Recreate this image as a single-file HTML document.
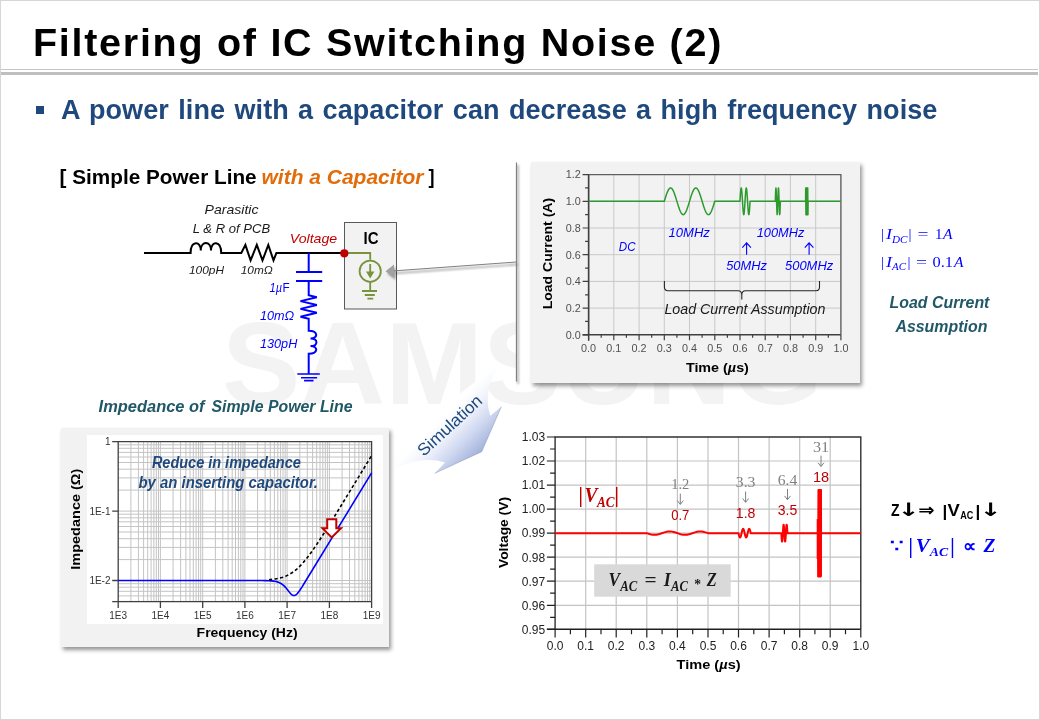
<!DOCTYPE html>
<html lang="en">
<head>
<meta charset="utf-8">
<title>Filtering of IC Switching Noise (2)</title>
<style>
html,body{margin:0;padding:0;background:#fff;}
body{width:1040px;height:720px;position:relative;overflow:hidden;font-family:"Liberation Sans",sans-serif;}
.frame{position:absolute;left:0;top:0;width:1038px;height:718px;border:1px solid #d6d6d6;box-sizing:content-box;}
h1{position:absolute;left:33px;top:19px;margin:0;font:bold 39.5px/46px "Liberation Sans",sans-serif;letter-spacing:1.72px;color:#000;white-space:nowrap;}
.rule-thin{position:absolute;left:1px;top:69px;width:1037px;height:1px;background:#c6c6c6;}
.rule-thick{position:absolute;left:1px;top:72px;width:1037px;height:3px;background:#bfbfbf;}
.bullet{position:absolute;left:36px;top:106px;width:8px;height:8px;background:#1f497d;}
.lead{position:absolute;left:61px;top:95.3px;margin:0;font:bold 27px/30px "Liberation Sans",sans-serif;color:#1f497d;white-space:nowrap;letter-spacing:0.1px;word-spacing:1.7px;}
.watermark{position:absolute;left:222px;top:297px;margin:0;font:bold 117.5px/134px "Liberation Sans",sans-serif;color:#f3f3f3;letter-spacing:0;white-space:nowrap;}
.panel{position:absolute;background:#f2f2f2;box-shadow:2px 2.5px 4px rgba(0,0,0,.42);}
.callout-box{position:absolute;left:516.5px;top:162.5px;width:330px;height:219px;background:#fff;}
.panel.p1{left:531px;top:162px;width:329px;height:221px;}
.panel.p2{left:61px;top:428px;width:328px;height:218.5px;}
.panel .inner{position:absolute;left:26px;top:7px;width:295.6px;height:188.7px;background:#fff;}
svg{position:absolute;left:0;top:0;}
</style>
</head>
<body>
<div class="frame"></div>
<div class="watermark">SAMSUNG</div>
<h1>Filtering of IC Switching Noise (2)</h1>
<div class="rule-thin"></div><div class="rule-thick"></div>
<div class="bullet"></div>
<p class="lead">A power line with a capacitor can decrease a high frequency noise</p>
<div class="callout-box"></div>
<div class="panel p1"></div>
<div class="panel p2"><div class="inner"></div></div>
<svg width="1040" height="720" viewBox="0 0 1040 720">
<defs>
<filter id="soft" x="-20%" y="-20%" width="140%" height="140%"><feGaussianBlur stdDeviation="1.3"/></filter>
<linearGradient id="simgrad" gradientUnits="userSpaceOnUse" x1="430" y1="430" x2="466" y2="466">
<stop offset="0" stop-color="#ffffff"/>
<stop offset="0.28" stop-color="#f1f4fb"/>
<stop offset="0.64" stop-color="#ced7f0"/>
<stop offset="1" stop-color="#a4b4dc"/>
</linearGradient>
</defs>
<g id="simulation-arrow">
<path d="M395 468.3 Q424 455.5 445 462.5 L434.7 473.3 L481.7 451.7 L501.3 406.7 L490.3 415.8 Q482.5 393 497.5 367.5 Q440 400 395 468.3 Z" fill="url(#simgrad)"/>
<path d="M434.7 473.3 L481.7 451.7 L501.3 406.7" fill="none" stroke="#8e98b4" stroke-opacity="0.55" stroke-width="1"/>
<g transform="translate(453.6 429.6) rotate(-42.7)">
<text x="0.0" y="0.0" font-family="'Liberation Sans', sans-serif" font-size="17" font-weight="normal" font-style="normal" fill="#1f497d" text-anchor="middle" textLength="81.0" lengthAdjust="spacingAndGlyphs">Simulation</text>
</g></g>
<g id="circuit" fill="none" stroke-linecap="butt" stroke-linejoin="miter">
<rect x="344.5" y="222.5" width="52" height="86.5" fill="#f2f2f2" stroke="#595959" stroke-width="1"/>
<path d="M144 253 H190.6 C190.6 240.4 200.8 240.4 200.8 250.5 C200.8 240.4 211.0 240.4 211.0 250.5 C211.0 240.4 221.2 240.4 221.2 253 H241.3 L245.4 244.9 L250.6 260.4 L256.8 244.9 L262.5 260.4 L268.3 244.9 L273.5 260.4 L276.4 253 H344" stroke="#000" stroke-width="2"/>
<g stroke="#0000ff" stroke-width="2">
<path d="M308.7 253 V271.9 M296 271.9 H322.2 M296 280.9 H322.2 M308.7 280.9 V295.2 L316.8 297.2 L300.5 301.1 L316.8 305 L300.5 308.9 L316.8 312.8 L300.5 316.7 L308.7 318.7 V330.7 C318.4 330.7 318.4 338.4 310.5 338.4 C318.4 338.4 318.4 346.1 310.5 346.1 C318.4 346.1 318.4 353.8 308.7 353.8 V374"/>
<path d="M297.3 374 H319.8 M301 377.7 H317.1 M304.1 380.6 H313.5" stroke-width="1.6"/>
</g>
<g stroke="#77933c" stroke-width="1.8">
<path d="M344 253 H370.2 V259.8"/>
<circle cx="370.2" cy="271.2" r="10.6"/>
<path d="M370.2 264 V273"/>
<path d="M366 271.5 H374.4 L370.2 278.5 Z" fill="#77933c" stroke="none"/>
<path d="M370.2 282 V291 M362 291 H377 M364.8 295 H374.8 M367.4 298.6 H373.2"/>
</g>
<circle cx="344.3" cy="253.3" r="4.1" fill="#c00000"/>
</g>
<text x="204.5" y="213.5" font-family="'Liberation Sans', sans-serif" font-size="13.2" font-weight="normal" font-style="italic" fill="#1a1a1a" text-anchor="start" textLength="54.0" lengthAdjust="spacingAndGlyphs">Parasitic</text>
<text x="192.7" y="232.6" font-family="'Liberation Sans', sans-serif" font-size="13.2" font-weight="normal" font-style="italic" fill="#1a1a1a" text-anchor="start" textLength="77.5" lengthAdjust="spacingAndGlyphs">L &amp; R of PCB</text>
<text x="289.8" y="242.9" font-family="'Liberation Sans', sans-serif" font-size="13.2" font-weight="normal" font-style="italic" fill="#c00000" text-anchor="start" textLength="47.4" lengthAdjust="spacingAndGlyphs">Voltage</text>
<text x="189.0" y="273.8" font-family="'Liberation Sans', sans-serif" font-size="10.8" font-weight="normal" font-style="italic" fill="#1a1a1a" text-anchor="start" textLength="35.1" lengthAdjust="spacingAndGlyphs">100pH</text>
<text x="240.8" y="273.8" font-family="'Liberation Sans', sans-serif" font-size="10.8" font-weight="normal" font-style="italic" fill="#1a1a1a" text-anchor="start" textLength="32.0" lengthAdjust="spacingAndGlyphs">10mΩ</text>
<text x="269.5" y="292.0" font-family="'Liberation Sans', sans-serif" font-size="12.4" font-weight="normal" font-style="italic" fill="#0000ff" text-anchor="start" textLength="12.5" lengthAdjust="spacingAndGlyphs">1µ</text>
<text x="282.6" y="292.0" font-family="'Liberation Sans', sans-serif" font-size="12.4" font-weight="normal" font-style="normal" fill="#0000ff" text-anchor="start" textLength="7.2" lengthAdjust="spacingAndGlyphs">F</text>
<text x="260.0" y="319.6" font-family="'Liberation Sans', sans-serif" font-size="12.4" font-weight="normal" font-style="italic" fill="#0000ff" text-anchor="start" textLength="34.2" lengthAdjust="spacingAndGlyphs">10mΩ</text>
<text x="260.0" y="347.9" font-family="'Liberation Sans', sans-serif" font-size="12.4" font-weight="normal" font-style="italic" fill="#0000ff" text-anchor="start" textLength="37.3" lengthAdjust="spacingAndGlyphs">130pH</text>
<text x="363.5" y="244.0" font-family="'Liberation Sans', sans-serif" font-size="16.8" font-weight="bold" font-style="normal" fill="#000" text-anchor="start" textLength="15.0" lengthAdjust="spacingAndGlyphs">IC</text>
<text x="59.6" y="183.8" font-family="'Liberation Sans', sans-serif" font-size="20.5" font-weight="bold" font-style="normal" fill="#000" text-anchor="start" textLength="197.0" lengthAdjust="spacingAndGlyphs">[ Simple Power Line</text>
<text x="261.5" y="183.8" font-family="'Liberation Sans', sans-serif" font-size="20.5" font-weight="bold" font-style="italic" fill="#e36c0a" text-anchor="start" textLength="162.0" lengthAdjust="spacingAndGlyphs">with a Capacitor</text>
<text x="428.5" y="183.8" font-family="'Liberation Sans', sans-serif" font-size="20.5" font-weight="bold" font-style="normal" fill="#000" text-anchor="start" textLength="6.0" lengthAdjust="spacingAndGlyphs">]</text>
<g id="callout">
<g filter="url(#soft)" opacity="0.35" transform="translate(1.6 2.4)"><path d="M516.5 162.5 V381.5 M516.5 262 L392 271" stroke="#000" stroke-width="1.6" fill="none"/><path d="M385.5 271.3 L394 264.5 L394 277.5 Z" fill="#000"/></g>
<path d="M516.5 162.5 V381.5" stroke="#808080" stroke-width="1.2" fill="none"/>
<path d="M516.5 262 L392 271" stroke="#808080" stroke-width="1" fill="none"/>
<path d="M385.5 271.3 L394 264.5 L394 277.5 Z" fill="#a0a0a0"/>
</g>
<g id="chart-load-current">
<path d="M613.8 174.6 V334.8 M639.1 174.6 V334.8 M664.3 174.6 V334.8 M689.5 174.6 V334.8 M714.8 174.6 V334.8 M740.0 174.6 V334.8 M765.2 174.6 V334.8 M790.4 174.6 V334.8 M815.7 174.6 V334.8 M588.6 308.1 H840.9 M588.6 281.4 H840.9 M588.6 254.7 H840.9 M588.6 228.0 H840.9 M588.6 201.3 H840.9 " stroke="#c8c8c8" stroke-width="1" fill="none"/>
<path d="M588.6 334.8 V174.6 H840.9 V334.8" stroke="#606060" stroke-width="1.4" fill="none"/>
<path d="M582.6 334.8 H840.9" stroke="#404040" stroke-width="1.4" fill="none"/>
<path d="M588.6 174.6 V340.8" stroke="#404040" stroke-width="1.4" fill="none"/>
<path d="M588.6 334.8 v5.5 M601.2 334.8 v3 M613.8 334.8 v5.5 M626.4 334.8 v3 M639.1 334.8 v5.5 M651.7 334.8 v3 M664.3 334.8 v5.5 M676.9 334.8 v3 M689.5 334.8 v5.5 M702.1 334.8 v3 M714.8 334.8 v5.5 M727.4 334.8 v3 M740.0 334.8 v5.5 M752.6 334.8 v3 M765.2 334.8 v5.5 M777.8 334.8 v3 M790.4 334.8 v5.5 M803.1 334.8 v3 M815.7 334.8 v5.5 M828.3 334.8 v3 M840.9 334.8 v5.5 M588.6 334.8 h-6 M588.6 321.4 h-3.5 M588.6 308.1 h-6 M588.6 294.8 h-3.5 M588.6 281.4 h-6 M588.6 268.1 h-3.5 M588.6 254.7 h-6 M588.6 241.3 h-3.5 M588.6 228.0 h-6 M588.6 214.7 h-3.5 M588.6 201.3 h-6 M588.6 187.9 h-3.5 M588.6 174.6 h-6 " stroke="#404040" stroke-width="1.2" fill="none"/>
<text x="588.6" y="352.3" font-family="'Liberation Sans', sans-serif" font-size="10.8" font-weight="normal" font-style="normal" fill="#505050" text-anchor="middle">0.0</text>
<text x="613.8" y="352.3" font-family="'Liberation Sans', sans-serif" font-size="10.8" font-weight="normal" font-style="normal" fill="#505050" text-anchor="middle">0.1</text>
<text x="639.1" y="352.3" font-family="'Liberation Sans', sans-serif" font-size="10.8" font-weight="normal" font-style="normal" fill="#505050" text-anchor="middle">0.2</text>
<text x="664.3" y="352.3" font-family="'Liberation Sans', sans-serif" font-size="10.8" font-weight="normal" font-style="normal" fill="#505050" text-anchor="middle">0.3</text>
<text x="689.5" y="352.3" font-family="'Liberation Sans', sans-serif" font-size="10.8" font-weight="normal" font-style="normal" fill="#505050" text-anchor="middle">0.4</text>
<text x="714.8" y="352.3" font-family="'Liberation Sans', sans-serif" font-size="10.8" font-weight="normal" font-style="normal" fill="#505050" text-anchor="middle">0.5</text>
<text x="740.0" y="352.3" font-family="'Liberation Sans', sans-serif" font-size="10.8" font-weight="normal" font-style="normal" fill="#505050" text-anchor="middle">0.6</text>
<text x="765.2" y="352.3" font-family="'Liberation Sans', sans-serif" font-size="10.8" font-weight="normal" font-style="normal" fill="#505050" text-anchor="middle">0.7</text>
<text x="790.4" y="352.3" font-family="'Liberation Sans', sans-serif" font-size="10.8" font-weight="normal" font-style="normal" fill="#505050" text-anchor="middle">0.8</text>
<text x="815.7" y="352.3" font-family="'Liberation Sans', sans-serif" font-size="10.8" font-weight="normal" font-style="normal" fill="#505050" text-anchor="middle">0.9</text>
<text x="840.9" y="352.3" font-family="'Liberation Sans', sans-serif" font-size="10.8" font-weight="normal" font-style="normal" fill="#505050" text-anchor="middle">1.0</text>
<text x="580.8" y="338.6" font-family="'Liberation Sans', sans-serif" font-size="10.8" font-weight="normal" font-style="normal" fill="#505050" text-anchor="end">0.0</text>
<text x="580.8" y="311.9" font-family="'Liberation Sans', sans-serif" font-size="10.8" font-weight="normal" font-style="normal" fill="#505050" text-anchor="end">0.2</text>
<text x="580.8" y="285.2" font-family="'Liberation Sans', sans-serif" font-size="10.8" font-weight="normal" font-style="normal" fill="#505050" text-anchor="end">0.4</text>
<text x="580.8" y="258.5" font-family="'Liberation Sans', sans-serif" font-size="10.8" font-weight="normal" font-style="normal" fill="#505050" text-anchor="end">0.6</text>
<text x="580.8" y="231.8" font-family="'Liberation Sans', sans-serif" font-size="10.8" font-weight="normal" font-style="normal" fill="#505050" text-anchor="end">0.8</text>
<text x="580.8" y="205.1" font-family="'Liberation Sans', sans-serif" font-size="10.8" font-weight="normal" font-style="normal" fill="#505050" text-anchor="end">1.0</text>
<text x="580.8" y="178.4" font-family="'Liberation Sans', sans-serif" font-size="10.8" font-weight="normal" font-style="normal" fill="#505050" text-anchor="end">1.2</text>
<path d="M588.60 201.30 L664.29 201.30 L665.47 197.44 L666.35 194.75 L667.15 192.58 L667.91 190.84 L668.66 189.47 L669.04 188.94 L669.38 188.56 L669.76 188.24 L670.09 188.06 L670.43 187.96 L670.77 187.96 L671.14 188.07 L671.52 188.30 L671.90 188.65 L672.28 189.10 L673.08 190.42 L673.92 192.26 L674.63 194.15 L675.39 196.39 L677.91 204.62 L678.80 207.36 L679.64 209.70 L680.40 211.50 L681.11 212.86 L681.82 213.86 L682.20 214.23 L682.54 214.46 L682.88 214.60 L683.21 214.65 L683.55 214.60 L683.89 214.46 L684.22 214.23 L684.56 213.91 L685.27 212.93 L685.99 211.59 L686.79 209.70 L687.63 207.36 L688.51 204.62 L691.03 196.39 L691.83 194.03 L692.55 192.16 L693.39 190.34 L693.81 189.60 L694.19 189.05 L694.61 188.56 L694.99 188.24 L695.36 188.04 L695.74 187.95 L696.08 187.98 L696.42 188.09 L696.75 188.30 L697.13 188.65 L697.85 189.60 L698.60 191.01 L699.40 192.90 L700.24 195.24 L701.13 197.98 L703.65 206.21 L704.45 208.57 L705.16 210.44 L706.00 212.26 L706.42 213.00 L706.80 213.55 L707.18 214.00 L707.56 214.33 L707.94 214.54 L708.32 214.64 L708.65 214.63 L708.99 214.53 L709.33 214.33 L709.70 214.00 L710.42 213.07 L711.13 211.76 L711.89 210.02 L712.69 207.85 L713.57 205.16 L714.75 201.30 L739.98 201.30 L740.40 194.62 L740.69 190.93 L740.99 188.60 L741.12 188.11 L741.24 187.95 L741.37 188.11 L741.54 188.84 L741.87 191.86 L742.21 196.52 L742.88 207.36 L743.22 211.67 L743.51 214.00 L743.64 214.49 L743.76 214.65 L743.89 214.49 L744.06 213.76 L744.40 210.74 L744.73 206.08 L745.40 195.24 L745.74 190.93 L746.04 188.60 L746.16 188.11 L746.29 187.95 L746.41 188.11 L746.58 188.84 L746.92 191.86 L747.25 196.52 L747.93 207.36 L748.26 211.67 L748.56 214.00 L748.68 214.49 L748.81 214.65 L748.94 214.49 L749.06 214.00 L749.36 211.67 L749.65 207.98 L750.07 201.30 L775.30 201.30 L775.64 191.38 L775.81 188.60 L775.93 187.95 L776.06 188.60 L776.23 191.38 L776.86 210.23 L777.03 213.50 L777.11 214.36 L777.19 214.65 L777.28 214.36 L777.36 213.50 L777.53 210.23 L778.16 191.38 L778.33 188.60 L778.46 187.95 L778.58 188.60 L778.75 191.38 L779.38 210.23 L779.55 213.50 L779.63 214.36 L779.72 214.65 L779.84 214.00 L780.01 211.22 L780.35 201.30 L805.58 201.30 L805.70 187.95 L805.96 214.65 L806.21 187.95 L806.46 214.65 L806.71 187.95 L806.97 214.65 L807.22 187.95 L807.47 214.65 L807.72 187.95 L807.97 214.65 L808.10 201.30 L840.90 201.30" stroke="#2d9a2d" stroke-width="1.5" fill="none" stroke-linejoin="round"/>
<text x="618.8" y="251.0" font-family="'Liberation Sans', sans-serif" font-size="13.2" font-weight="normal" font-style="italic" fill="#0000ff" text-anchor="start" textLength="16.8" lengthAdjust="spacingAndGlyphs">DC</text>
<text x="668.5" y="237.1" font-family="'Liberation Sans', sans-serif" font-size="13.2" font-weight="normal" font-style="italic" fill="#0000ff" text-anchor="start" textLength="41.4" lengthAdjust="spacingAndGlyphs">10MHz</text>
<text x="756.7" y="237.1" font-family="'Liberation Sans', sans-serif" font-size="13.2" font-weight="normal" font-style="italic" fill="#0000ff" text-anchor="start" textLength="47.6" lengthAdjust="spacingAndGlyphs">100MHz</text>
<text x="726.2" y="269.8" font-family="'Liberation Sans', sans-serif" font-size="13.2" font-weight="normal" font-style="italic" fill="#0000ff" text-anchor="start" textLength="40.8" lengthAdjust="spacingAndGlyphs">50MHz</text>
<text x="785.0" y="269.8" font-family="'Liberation Sans', sans-serif" font-size="13.2" font-weight="normal" font-style="italic" fill="#0000ff" text-anchor="start" textLength="48.2" lengthAdjust="spacingAndGlyphs">500MHz</text>
<path d="M746.6 254.7 V243 M742.3 247.6 L746.6 242.8 L750.9 247.6 M809.1 254.7 V243 M804.8 247.6 L809.1 242.8 L813.4 247.6" stroke="#0000ff" stroke-width="1.1" fill="none"/>
<path d="M664.4 281 V287 Q664.4 290.7 668 290.7 H738 Q741.8 290.7 741.8 295 V299.6 M741.8 295 Q741.8 290.7 745.5 290.7 H816 Q819.5 290.7 819.5 287 V281" stroke="#262626" stroke-width="1.1" fill="none"/>
<text x="664.4" y="314.3" font-family="'Liberation Sans', sans-serif" font-size="14" font-weight="normal" font-style="italic" fill="#1a1a1a" text-anchor="start" textLength="161.0" lengthAdjust="spacingAndGlyphs">Load Current Assumption</text>
<text x="717.4" y="372.0" font-family="'Liberation Sans', sans-serif" font-size="13" font-weight="bold" font-style="normal" fill="#000" text-anchor="middle" textLength="63.0" lengthAdjust="spacingAndGlyphs">Time (<tspan font-style="italic">µ</tspan>s)</text>
<g transform="translate(551.6 253.6) rotate(-90)">
<text x="0.0" y="0.0" font-family="'Liberation Sans', sans-serif" font-size="13" font-weight="bold" font-style="normal" fill="#000" text-anchor="middle" textLength="111.5" lengthAdjust="spacingAndGlyphs">Load Current (A)</text>
</g>
</g>
<g id="right-labels">
<text x="881.0" y="239.2" font-family="'Liberation Serif', serif" font-size="15" font-weight="normal" font-style="normal" fill="#0000ff" text-anchor="start">|</text>
<text x="886.0" y="239.2" font-family="'Liberation Serif', serif" font-size="15" font-weight="normal" font-style="italic" fill="#0000ff" text-anchor="start" textLength="6.0" lengthAdjust="spacingAndGlyphs">I</text>
<text x="892.0" y="242.6" font-family="'Liberation Serif', serif" font-size="11" font-weight="normal" font-style="italic" fill="#0000ff" text-anchor="start" textLength="15.5" lengthAdjust="spacingAndGlyphs">DC</text>
<text x="908.6" y="239.2" font-family="'Liberation Serif', serif" font-size="15" font-weight="normal" font-style="normal" fill="#0000ff" text-anchor="start">|</text>
<text x="917.5" y="239.2" font-family="'Liberation Serif', serif" font-size="15" font-weight="normal" font-style="normal" fill="#0000ff" text-anchor="start" textLength="11.0" lengthAdjust="spacingAndGlyphs">=</text>
<text x="935.0" y="239.2" font-family="'Liberation Serif', serif" font-size="15" font-weight="normal" font-style="normal" fill="#0000ff" text-anchor="start">1</text>
<text x="943.0" y="239.2" font-family="'Liberation Serif', serif" font-size="15" font-weight="normal" font-style="italic" fill="#0000ff" text-anchor="start" textLength="9.5" lengthAdjust="spacingAndGlyphs">A</text>
<text x="881.0" y="266.8" font-family="'Liberation Serif', serif" font-size="15" font-weight="normal" font-style="normal" fill="#0000ff" text-anchor="start">|</text>
<text x="886.0" y="266.8" font-family="'Liberation Serif', serif" font-size="15" font-weight="normal" font-style="italic" fill="#0000ff" text-anchor="start" textLength="6.0" lengthAdjust="spacingAndGlyphs">I</text>
<text x="892.0" y="270.2" font-family="'Liberation Serif', serif" font-size="11" font-weight="normal" font-style="italic" fill="#0000ff" text-anchor="start" textLength="14.0" lengthAdjust="spacingAndGlyphs">AC</text>
<text x="907.4" y="266.8" font-family="'Liberation Serif', serif" font-size="15" font-weight="normal" font-style="normal" fill="#0000ff" text-anchor="start">|</text>
<text x="916.0" y="266.8" font-family="'Liberation Serif', serif" font-size="15" font-weight="normal" font-style="normal" fill="#0000ff" text-anchor="start" textLength="11.0" lengthAdjust="spacingAndGlyphs">=</text>
<text x="932.5" y="266.8" font-family="'Liberation Serif', serif" font-size="15" font-weight="normal" font-style="normal" fill="#0000ff" text-anchor="start" textLength="20.5" lengthAdjust="spacingAndGlyphs">0.1</text>
<text x="954.0" y="266.8" font-family="'Liberation Serif', serif" font-size="15" font-weight="normal" font-style="italic" fill="#0000ff" text-anchor="start" textLength="9.5" lengthAdjust="spacingAndGlyphs">A</text>
<text x="889.6" y="308.2" font-family="'Liberation Sans', sans-serif" font-size="15.6" font-weight="bold" font-style="italic" fill="#215868" text-anchor="start" textLength="99.8" lengthAdjust="spacingAndGlyphs">Load Current</text>
<text x="895.4" y="331.6" font-family="'Liberation Sans', sans-serif" font-size="15.6" font-weight="bold" font-style="italic" fill="#215868" text-anchor="start" textLength="92.0" lengthAdjust="spacingAndGlyphs">Assumption</text>
<text x="890.9" y="515.6" font-family="'Liberation Sans', sans-serif" font-size="16.5" font-weight="bold" font-style="normal" fill="#000" text-anchor="start" textLength="8.6" lengthAdjust="spacingAndGlyphs">Z</text>
<text x="897.4" y="516.1" font-family="'DejaVu Sans', sans-serif" font-size="18.5" font-weight="bold" font-style="normal" fill="#000" text-anchor="start" textLength="22.0" lengthAdjust="spacingAndGlyphs">↓</text>
<text x="918.2" y="515.6" font-family="'DejaVu Sans', sans-serif" font-size="18" font-weight="bold" font-style="normal" fill="#000" text-anchor="start" textLength="16.4" lengthAdjust="spacingAndGlyphs">⇒</text>
<text x="942.6" y="517.1" font-family="'Liberation Sans', sans-serif" font-size="17" font-weight="bold" font-style="normal" fill="#000" text-anchor="start">|</text>
<text x="947.6" y="515.6" font-family="'Liberation Sans', sans-serif" font-size="16.5" font-weight="bold" font-style="normal" fill="#000" text-anchor="start" textLength="12.3" lengthAdjust="spacingAndGlyphs">V</text>
<text x="960.2" y="519.2" font-family="'Liberation Sans', sans-serif" font-size="10.8" font-weight="bold" font-style="normal" fill="#000" text-anchor="start" textLength="13.1" lengthAdjust="spacingAndGlyphs">AC</text>
<text x="975.6" y="517.1" font-family="'Liberation Sans', sans-serif" font-size="17" font-weight="bold" font-style="normal" fill="#000" text-anchor="start">|</text>
<text x="979.5" y="516.1" font-family="'DejaVu Sans', sans-serif" font-size="18.5" font-weight="bold" font-style="normal" fill="#000" text-anchor="start" textLength="22.0" lengthAdjust="spacingAndGlyphs">↓</text>
<text x="889.6" y="551.9" font-family="'Liberation Serif', serif" font-size="18" font-weight="bold" font-style="normal" fill="#0000ff" text-anchor="start" textLength="13.0" lengthAdjust="spacingAndGlyphs">∵</text>
<text x="908.6" y="553.4" font-family="'Liberation Serif', serif" font-size="20" font-weight="bold" font-style="normal" fill="#0000ff" text-anchor="start">|</text>
<text x="915.8" y="551.9" font-family="'Liberation Serif', serif" font-size="18.4" font-weight="bold" font-style="italic" fill="#0000ff" text-anchor="start" textLength="13.9" lengthAdjust="spacingAndGlyphs">V</text>
<text x="929.7" y="556.0" font-family="'Liberation Serif', serif" font-size="13.5" font-weight="bold" font-style="italic" fill="#0000ff" text-anchor="start" textLength="18.4" lengthAdjust="spacingAndGlyphs">AC</text>
<text x="950.3" y="553.4" font-family="'Liberation Serif', serif" font-size="20" font-weight="bold" font-style="normal" fill="#0000ff" text-anchor="start">|</text>
<text x="962.8" y="551.9" font-family="'Liberation Serif', serif" font-size="18" font-weight="bold" font-style="normal" fill="#0000ff" text-anchor="start" textLength="13.4" lengthAdjust="spacingAndGlyphs">∝</text>
<text x="983.6" y="551.9" font-family="'Liberation Serif', serif" font-size="18.4" font-weight="bold" font-style="italic" fill="#0000ff" text-anchor="start" textLength="11.9" lengthAdjust="spacingAndGlyphs">Z</text>
</g>
<g id="chart-impedance">
<text x="98.6" y="411.5" font-family="'Liberation Sans', sans-serif" font-size="16.8" font-weight="bold" font-style="italic" fill="#215868" text-anchor="start" textLength="106.0" lengthAdjust="spacingAndGlyphs">Impedance of</text>
<text x="211.5" y="411.5" font-family="'Liberation Sans', sans-serif" font-size="16.8" font-weight="bold" font-style="italic" fill="#215868" text-anchor="start" textLength="141.0" lengthAdjust="spacingAndGlyphs">Simple Power Line</text>
<path d="M130.9 441.6 V601.6 M138.4 441.6 V601.6 M143.6 441.6 V601.6 M147.7 441.6 V601.6 M151.1 441.6 V601.6 M153.9 441.6 V601.6 M156.3 441.6 V601.6 M158.5 441.6 V601.6 M160.4 441.6 V601.6 M173.1 441.6 V601.6 M180.6 441.6 V601.6 M185.9 441.6 V601.6 M190.0 441.6 V601.6 M193.3 441.6 V601.6 M196.1 441.6 V601.6 M198.6 441.6 V601.6 M200.7 441.6 V601.6 M202.7 441.6 V601.6 M215.4 441.6 V601.6 M222.8 441.6 V601.6 M228.1 441.6 V601.6 M232.2 441.6 V601.6 M235.5 441.6 V601.6 M238.4 441.6 V601.6 M240.8 441.6 V601.6 M243.0 441.6 V601.6 M244.9 441.6 V601.6 M257.6 441.6 V601.6 M265.1 441.6 V601.6 M270.3 441.6 V601.6 M274.4 441.6 V601.6 M277.8 441.6 V601.6 M280.6 441.6 V601.6 M283.0 441.6 V601.6 M285.2 441.6 V601.6 M287.1 441.6 V601.6 M299.8 441.6 V601.6 M307.3 441.6 V601.6 M312.6 441.6 V601.6 M316.7 441.6 V601.6 M320.0 441.6 V601.6 M322.8 441.6 V601.6 M325.3 441.6 V601.6 M327.4 441.6 V601.6 M329.4 441.6 V601.6 M342.1 441.6 V601.6 M349.5 441.6 V601.6 M354.8 441.6 V601.6 M358.9 441.6 V601.6 M362.2 441.6 V601.6 M365.1 441.6 V601.6 M367.5 441.6 V601.6 M369.7 441.6 V601.6 M118.2 601.4 H371.6 M118.2 595.9 H371.6 M118.2 591.3 H371.6 M118.2 587.2 H371.6 M118.2 583.7 H371.6 M118.2 580.5 H371.6 M118.2 559.6 H371.6 M118.2 547.4 H371.6 M118.2 538.7 H371.6 M118.2 532.0 H371.6 M118.2 526.5 H371.6 M118.2 521.8 H371.6 M118.2 517.8 H371.6 M118.2 514.2 H371.6 M118.2 511.1 H371.6 M118.2 490.1 H371.6 M118.2 477.9 H371.6 M118.2 469.2 H371.6 M118.2 462.5 H371.6 M118.2 457.0 H371.6 M118.2 452.4 H371.6 M118.2 448.3 H371.6 M118.2 444.8 H371.6 " stroke="#c4c4c4" stroke-width="1" fill="none"/>
<path d="M118.2 601.6 V441.6 H371.6 V601.6" stroke="#404040" stroke-width="1.3" fill="none"/>
<path d="M112.2 601.6 H371.6" stroke="#404040" stroke-width="1.3" fill="none"/>
<path d="M118.2 601.6 v6.5 M160.4 601.6 v6.5 M202.7 601.6 v6.5 M244.9 601.6 v6.5 M287.1 601.6 v6.5 M329.4 601.6 v6.5 M371.6 601.6 v6.5 M118.2 441.6 h-6 M118.2 511.1 h-6 M118.2 580.5 h-6 " stroke="#404040" stroke-width="1.3" fill="none"/>
<text x="118.2" y="618.7" font-family="'Liberation Sans', sans-serif" font-size="10" font-weight="normal" font-style="normal" fill="#333" text-anchor="middle">1E3</text>
<text x="160.4" y="618.7" font-family="'Liberation Sans', sans-serif" font-size="10" font-weight="normal" font-style="normal" fill="#333" text-anchor="middle">1E4</text>
<text x="202.7" y="618.7" font-family="'Liberation Sans', sans-serif" font-size="10" font-weight="normal" font-style="normal" fill="#333" text-anchor="middle">1E5</text>
<text x="244.9" y="618.7" font-family="'Liberation Sans', sans-serif" font-size="10" font-weight="normal" font-style="normal" fill="#333" text-anchor="middle">1E6</text>
<text x="287.1" y="618.7" font-family="'Liberation Sans', sans-serif" font-size="10" font-weight="normal" font-style="normal" fill="#333" text-anchor="middle">1E7</text>
<text x="329.4" y="618.7" font-family="'Liberation Sans', sans-serif" font-size="10" font-weight="normal" font-style="normal" fill="#333" text-anchor="middle">1E8</text>
<text x="371.6" y="618.7" font-family="'Liberation Sans', sans-serif" font-size="10" font-weight="normal" font-style="normal" fill="#333" text-anchor="middle">1E9</text>
<text x="110.5" y="445.2" font-family="'Liberation Sans', sans-serif" font-size="10" font-weight="normal" font-style="normal" fill="#333" text-anchor="end">1</text>
<text x="110.5" y="514.6" font-family="'Liberation Sans', sans-serif" font-size="10" font-weight="normal" font-style="normal" fill="#333" text-anchor="end">1E-1</text>
<text x="110.5" y="584.1" font-family="'Liberation Sans', sans-serif" font-size="10" font-weight="normal" font-style="normal" fill="#333" text-anchor="end">1E-2</text>
<path d="M118.20 580.50 L255.67 580.51 L261.37 580.54 L265.81 580.62 L268.97 580.73 L271.51 580.91 L273.41 581.11 L274.67 581.31 L275.94 581.56 L277.21 581.88 L278.48 582.31 L279.11 582.56 L280.38 583.17 L281.01 583.53 L282.28 584.38 L282.91 584.87 L283.54 585.41 L284.81 586.65 L285.44 587.34 L286.71 588.85 L289.25 592.09 L289.88 592.85 L290.51 593.56 L291.15 594.19 L291.78 594.72 L292.41 595.13 L293.05 595.40 L293.68 595.52 L294.31 595.50 L294.95 595.33 L295.58 595.02 L296.21 594.57 L296.85 594.02 L297.48 593.36 L298.11 592.62 L298.75 591.80 L300.01 590.02 L301.92 587.09 L303.82 584.02 L331.69 538.41 L371.60 472.82" stroke="#0000ff" stroke-width="1.6" fill="none" stroke-linejoin="round"/>
<path d="M268.97 579.70 L272.14 579.38 L275.31 578.94 L277.84 578.48 L280.38 577.89 L281.64 577.54 L282.91 577.15 L284.81 576.47 L286.08 575.95 L287.34 575.38 L289.25 574.42 L291.15 573.30 L293.05 572.04 L294.95 570.62 L296.85 569.04 L298.75 567.29 L300.65 565.39 L302.55 563.34 L305.08 560.39 L306.98 558.02 L308.88 555.55 L310.78 552.97 L313.32 549.41 L315.85 545.71 L318.39 541.91 L320.92 538.03 L324.09 533.08 L330.42 522.99 L339.29 508.62 L351.33 488.92 L371.60 455.61" stroke="#000" stroke-width="1.6" fill="none" stroke-dasharray="3.2 2.4"/>
<path d="M327.2 519.2 H336.3 V528.2 H341 L331.7 537.4 L322.5 528.2 H327.2 Z" fill="#fff" stroke="#c00000" stroke-width="2" stroke-linejoin="miter"/>
<text x="151.9" y="468.1" font-family="'Liberation Sans', sans-serif" font-size="15.6" font-weight="bold" font-style="italic" fill="#1f497d" text-anchor="start" textLength="148.9" lengthAdjust="spacingAndGlyphs">Reduce in impedance</text>
<text x="138.5" y="488.3" font-family="'Liberation Sans', sans-serif" font-size="15.6" font-weight="bold" font-style="italic" fill="#1f497d" text-anchor="start" textLength="179.5" lengthAdjust="spacingAndGlyphs">by an inserting capacitor.</text>
<text x="247.1" y="636.9" font-family="'Liberation Sans', sans-serif" font-size="13" font-weight="bold" font-style="normal" fill="#000" text-anchor="middle" textLength="101.0" lengthAdjust="spacingAndGlyphs">Frequency (Hz)</text>
<g transform="translate(80.4 519.2) rotate(-90)">
<text x="0.0" y="0.0" font-family="'Liberation Sans', sans-serif" font-size="13" font-weight="bold" font-style="normal" fill="#000" text-anchor="middle" textLength="101.0" lengthAdjust="spacingAndGlyphs">Impedance (Ω)</text>
</g>
</g>
<g id="chart-voltage">
<path d="M585.7 437.0 V629.3 M616.2 437.0 V629.3 M646.8 437.0 V629.3 M677.4 437.0 V629.3 M708.0 437.0 V629.3 M738.5 437.0 V629.3 M769.1 437.0 V629.3 M799.7 437.0 V629.3 M830.2 437.0 V629.3 M555.1 605.3 H860.8 M555.1 581.2 H860.8 M555.1 557.2 H860.8 M555.1 533.1 H860.8 M555.1 509.1 H860.8 M555.1 485.1 H860.8 M555.1 461.0 H860.8 " stroke="#c4c4c4" stroke-width="1.2" fill="none"/>
<rect x="594.2" y="564.3" width="136.5" height="32.4" fill="#d9d9d9"/>
<path d="M555.1 629.3 V437.0 H860.8 V629.3" stroke="#303030" stroke-width="1.4" fill="none"/>
<path d="M546.9 629.3 H860.8" stroke="#202020" stroke-width="1.4" fill="none"/>
<path d="M555.1 629.3 v8.2 M570.4 629.3 v5 M585.7 629.3 v8.2 M601.0 629.3 v5 M616.2 629.3 v8.2 M631.5 629.3 v5 M646.8 629.3 v8.2 M662.1 629.3 v5 M677.4 629.3 v8.2 M692.7 629.3 v5 M708.0 629.3 v8.2 M723.2 629.3 v5 M738.5 629.3 v8.2 M753.8 629.3 v5 M769.1 629.3 v8.2 M784.4 629.3 v5 M799.7 629.3 v8.2 M814.9 629.3 v5 M830.2 629.3 v8.2 M845.5 629.3 v5 M860.8 629.3 v8.2 M555.1 629.3 h-8.2 M555.1 617.3 h-5 M555.1 605.3 h-8.2 M555.1 593.2 h-5 M555.1 581.2 h-8.2 M555.1 569.2 h-5 M555.1 557.2 h-8.2 M555.1 545.2 h-5 M555.1 533.1 h-8.2 M555.1 521.1 h-5 M555.1 509.1 h-8.2 M555.1 497.1 h-5 M555.1 485.1 h-8.2 M555.1 473.1 h-5 M555.1 461.0 h-8.2 M555.1 449.0 h-5 M555.1 437.0 h-8.2 " stroke="#202020" stroke-width="1.2" fill="none"/>
<text x="555.1" y="650.4" font-family="'Liberation Sans', sans-serif" font-size="12" font-weight="normal" font-style="normal" fill="#222" text-anchor="middle">0.0</text>
<text x="585.7" y="650.4" font-family="'Liberation Sans', sans-serif" font-size="12" font-weight="normal" font-style="normal" fill="#222" text-anchor="middle">0.1</text>
<text x="616.2" y="650.4" font-family="'Liberation Sans', sans-serif" font-size="12" font-weight="normal" font-style="normal" fill="#222" text-anchor="middle">0.2</text>
<text x="646.8" y="650.4" font-family="'Liberation Sans', sans-serif" font-size="12" font-weight="normal" font-style="normal" fill="#222" text-anchor="middle">0.3</text>
<text x="677.4" y="650.4" font-family="'Liberation Sans', sans-serif" font-size="12" font-weight="normal" font-style="normal" fill="#222" text-anchor="middle">0.4</text>
<text x="708.0" y="650.4" font-family="'Liberation Sans', sans-serif" font-size="12" font-weight="normal" font-style="normal" fill="#222" text-anchor="middle">0.5</text>
<text x="738.5" y="650.4" font-family="'Liberation Sans', sans-serif" font-size="12" font-weight="normal" font-style="normal" fill="#222" text-anchor="middle">0.6</text>
<text x="769.1" y="650.4" font-family="'Liberation Sans', sans-serif" font-size="12" font-weight="normal" font-style="normal" fill="#222" text-anchor="middle">0.7</text>
<text x="799.7" y="650.4" font-family="'Liberation Sans', sans-serif" font-size="12" font-weight="normal" font-style="normal" fill="#222" text-anchor="middle">0.8</text>
<text x="830.2" y="650.4" font-family="'Liberation Sans', sans-serif" font-size="12" font-weight="normal" font-style="normal" fill="#222" text-anchor="middle">0.9</text>
<text x="860.8" y="650.4" font-family="'Liberation Sans', sans-serif" font-size="12" font-weight="normal" font-style="normal" fill="#222" text-anchor="middle">1.0</text>
<text x="545.2" y="633.6" font-family="'Liberation Sans', sans-serif" font-size="12" font-weight="normal" font-style="normal" fill="#222" text-anchor="end">0.95</text>
<text x="545.2" y="609.6" font-family="'Liberation Sans', sans-serif" font-size="12" font-weight="normal" font-style="normal" fill="#222" text-anchor="end">0.96</text>
<text x="545.2" y="585.5" font-family="'Liberation Sans', sans-serif" font-size="12" font-weight="normal" font-style="normal" fill="#222" text-anchor="end">0.97</text>
<text x="545.2" y="561.5" font-family="'Liberation Sans', sans-serif" font-size="12" font-weight="normal" font-style="normal" fill="#222" text-anchor="end">0.98</text>
<text x="545.2" y="537.4" font-family="'Liberation Sans', sans-serif" font-size="12" font-weight="normal" font-style="normal" fill="#222" text-anchor="end">0.99</text>
<text x="545.2" y="513.4" font-family="'Liberation Sans', sans-serif" font-size="12" font-weight="normal" font-style="normal" fill="#222" text-anchor="end">1.00</text>
<text x="545.2" y="489.4" font-family="'Liberation Sans', sans-serif" font-size="12" font-weight="normal" font-style="normal" fill="#222" text-anchor="end">1.01</text>
<text x="545.2" y="465.3" font-family="'Liberation Sans', sans-serif" font-size="12" font-weight="normal" font-style="normal" fill="#222" text-anchor="end">1.02</text>
<text x="545.2" y="441.3" font-family="'Liberation Sans', sans-serif" font-size="12" font-weight="normal" font-style="normal" fill="#222" text-anchor="end">1.03</text>
<path d="M555.10 533.15 L646.81 533.15 L649.33 533.98 L651.20 534.47 L652.96 534.75 L654.64 534.83 L655.56 534.79 L656.52 534.68 L658.46 534.29 L660.26 533.77 L664.39 532.39 L666.37 531.85 L668.17 531.55 L669.93 531.47 L670.85 531.51 L671.80 531.62 L673.75 532.01 L675.55 532.53 L679.67 533.91 L681.66 534.45 L683.46 534.75 L685.18 534.83 L686.09 534.79 L687.05 534.69 L689.00 534.30 L690.83 533.77 L695.00 532.37 L697.02 531.84 L698.86 531.54 L700.65 531.47 L702.22 531.60 L703.86 531.90 L705.62 532.37 L707.95 533.15 L738.52 533.15 L739.02 535.26 L739.36 536.44 L739.70 537.21 L739.90 537.42 L740.05 537.48 L740.24 537.39 L740.43 537.15 L740.62 536.75 L740.85 536.09 L741.19 534.81 L742.04 531.19 L742.42 529.86 L742.76 529.09 L742.95 528.88 L743.11 528.82 L743.30 528.91 L743.49 529.15 L743.68 529.55 L743.91 530.21 L744.25 531.49 L745.09 535.11 L745.47 536.44 L745.82 537.21 L746.01 537.42 L746.16 537.48 L746.32 537.42 L746.51 537.21 L746.85 536.44 L747.23 535.11 L748.07 531.49 L748.42 530.21 L748.65 529.55 L748.84 529.15 L749.03 528.91 L749.22 528.82 L749.37 528.88 L749.56 529.09 L749.91 529.86 L750.25 531.04 L750.75 533.15 L781.32 533.15 L781.74 539.55 L781.93 541.15 L782.01 541.46 L782.08 541.56 L782.16 541.46 L782.27 540.92 L782.46 539.10 L783.27 526.75 L783.46 525.15 L783.53 524.84 L783.61 524.74 L783.69 524.84 L783.80 525.38 L783.99 527.20 L784.80 539.55 L784.99 541.15 L785.06 541.46 L785.14 541.56 L785.22 541.46 L785.33 540.92 L785.52 539.10 L786.32 526.75 L786.51 525.15 L786.59 524.84 L786.67 524.74 L786.74 524.84 L786.82 525.15 L787.01 526.75 L787.43 533.15 L818.00 533.15 L818.08 563.74 L818.15 576.42 L818.23 563.74 L818.38 502.56 L818.46 489.88 L818.54 502.56 L818.69 563.74 L818.77 576.42 L818.84 563.74 L819.00 502.56 L819.07 489.88 L819.15 502.56 L819.30 563.74 L819.38 576.42 L819.45 563.74 L819.61 502.56 L819.68 489.88 L819.76 502.56 L819.91 563.74 L819.99 576.42 L820.07 563.74 L820.22 502.56 L820.29 489.88 L820.37 502.56 L820.52 563.74 L820.60 576.42 L820.68 563.74 L820.83 502.56 L820.91 489.88 L820.98 502.56 L821.06 533.15 L860.80 533.15" stroke="#ff0000" stroke-width="2" fill="none" stroke-linejoin="round"/>
<rect x="818.3" y="489.6" width="3.6" height="87" fill="#ff0000"/>
<rect x="816.7" y="519" width="2" height="40" fill="#ff0000"/>
<text x="578.5" y="502.0" font-family="'Liberation Serif', serif" font-size="20" font-weight="bold" font-style="normal" fill="#c00000" text-anchor="start">|</text>
<text x="584.5" y="502.0" font-family="'Liberation Serif', serif" font-size="20" font-weight="bold" font-style="italic" fill="#c00000" text-anchor="start" textLength="13.0" lengthAdjust="spacingAndGlyphs">V</text>
<text x="597.0" y="506.5" font-family="'Liberation Serif', serif" font-size="14.5" font-weight="bold" font-style="italic" fill="#c00000" text-anchor="start" textLength="17.5" lengthAdjust="spacingAndGlyphs">AC</text>
<text x="614.5" y="502.0" font-family="'Liberation Serif', serif" font-size="20" font-weight="bold" font-style="normal" fill="#c00000" text-anchor="start">|</text>
<text x="680.3" y="489.4" font-family="'Liberation Serif', serif" font-size="14.5" font-weight="normal" font-style="normal" fill="#808080" text-anchor="middle" textLength="18.2" lengthAdjust="spacingAndGlyphs">1.2</text>
<path d="M680.3 493.59999999999997 v10.6 m-3 -3.6 l3 3.8 l3 -3.8" stroke="#808080" stroke-width="1" fill="none"/>
<text x="680.3" y="519.6" font-family="'Liberation Sans', sans-serif" font-size="14" font-weight="normal" font-style="normal" fill="#c00000" text-anchor="middle" textLength="18.2" lengthAdjust="spacingAndGlyphs">0.7</text>
<text x="745.6" y="487.3" font-family="'Liberation Serif', serif" font-size="14.5" font-weight="normal" font-style="normal" fill="#808080" text-anchor="middle" textLength="19.6" lengthAdjust="spacingAndGlyphs">3.3</text>
<path d="M745.6 491.5 v10.6 m-3 -3.6 l3 3.8 l3 -3.8" stroke="#808080" stroke-width="1" fill="none"/>
<text x="745.6" y="517.5" font-family="'Liberation Sans', sans-serif" font-size="14" font-weight="normal" font-style="normal" fill="#c00000" text-anchor="middle" textLength="19.6" lengthAdjust="spacingAndGlyphs">1.8</text>
<text x="787.5" y="484.7" font-family="'Liberation Serif', serif" font-size="14.5" font-weight="normal" font-style="normal" fill="#808080" text-anchor="middle" textLength="19.5" lengthAdjust="spacingAndGlyphs">6.4</text>
<path d="M787.5 488.9 v10.6 m-3 -3.6 l3 3.8 l3 -3.8" stroke="#808080" stroke-width="1" fill="none"/>
<text x="787.5" y="514.9" font-family="'Liberation Sans', sans-serif" font-size="14" font-weight="normal" font-style="normal" fill="#c00000" text-anchor="middle" textLength="19.5" lengthAdjust="spacingAndGlyphs">3.5</text>
<text x="821.0" y="451.5" font-family="'Liberation Serif', serif" font-size="14.5" font-weight="normal" font-style="normal" fill="#808080" text-anchor="middle" textLength="16.2" lengthAdjust="spacingAndGlyphs">31</text>
<path d="M821 455.7 v10.6 m-3 -3.6 l3 3.8 l3 -3.8" stroke="#808080" stroke-width="1" fill="none"/>
<text x="821.0" y="481.7" font-family="'Liberation Sans', sans-serif" font-size="14" font-weight="normal" font-style="normal" fill="#c00000" text-anchor="middle" textLength="16.2" lengthAdjust="spacingAndGlyphs">18</text>
<text x="608.6" y="586.4" font-family="'Liberation Serif', serif" font-size="18.5" font-weight="bold" font-style="italic" fill="#1a1a1a" text-anchor="start" textLength="11.5" lengthAdjust="spacingAndGlyphs">V</text>
<text x="620.3" y="590.6" font-family="'Liberation Serif', serif" font-size="14" font-weight="bold" font-style="italic" fill="#1a1a1a" text-anchor="start" textLength="17.0" lengthAdjust="spacingAndGlyphs">AC</text>
<text x="644.6" y="586.4" font-family="'Liberation Serif', serif" font-size="18.5" font-weight="bold" font-style="normal" fill="#1a1a1a" text-anchor="start" textLength="12.2" lengthAdjust="spacingAndGlyphs">=</text>
<text x="663.7" y="586.4" font-family="'Liberation Serif', serif" font-size="18.5" font-weight="bold" font-style="italic" fill="#1a1a1a" text-anchor="start" textLength="7.0" lengthAdjust="spacingAndGlyphs">I</text>
<text x="671.0" y="590.6" font-family="'Liberation Serif', serif" font-size="14" font-weight="bold" font-style="italic" fill="#1a1a1a" text-anchor="start" textLength="17.0" lengthAdjust="spacingAndGlyphs">AC</text>
<text x="694.2" y="588.9" font-family="'Liberation Serif', serif" font-size="15" font-weight="bold" font-style="normal" fill="#1a1a1a" text-anchor="start" textLength="6.8" lengthAdjust="spacingAndGlyphs">*</text>
<text x="706.7" y="586.4" font-family="'Liberation Serif', serif" font-size="18.5" font-weight="bold" font-style="italic" fill="#1a1a1a" text-anchor="start" textLength="10.0" lengthAdjust="spacingAndGlyphs">Z</text>
<text x="708.6" y="669.2" font-family="'Liberation Sans', sans-serif" font-size="13" font-weight="bold" font-style="normal" fill="#000" text-anchor="middle" textLength="64.0" lengthAdjust="spacingAndGlyphs">Time (<tspan font-style="italic">µ</tspan>s)</text>
<g transform="translate(508.3 532.5) rotate(-90)">
<text x="0.0" y="0.0" font-family="'Liberation Sans', sans-serif" font-size="13" font-weight="bold" font-style="normal" fill="#000" text-anchor="middle" textLength="71.0" lengthAdjust="spacingAndGlyphs">Voltage (V)</text>
</g>
</g>
</svg>
</body>
</html>
